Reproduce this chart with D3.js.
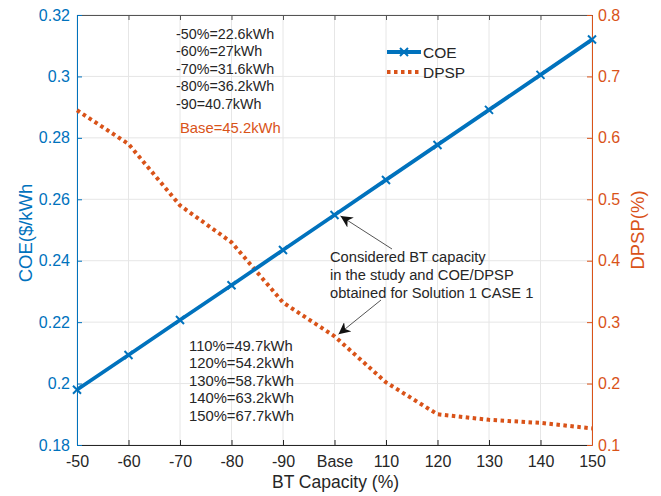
<!DOCTYPE html>
<html>
<head>
<meta charset="utf-8">
<script src="https://cdn.jsdelivr.net/npm/d3@7"></script>
<style>
  html, body { margin: 0; padding: 0; background: #fff; }
  svg { display: block; font-family: "Liberation Sans", Arial, sans-serif; }
</style>
</head>
<body>
<svg id="chart" width="661" height="496"></svg>
<script>
// Battery capacity scenarios
const categories = ["-50", "-60", "-70", "-80", "-90", "Base", "110", "120", "130", "140", "150"];
// Cost of energy ($/kWh)
const coeValues = [0.198, 0.2093, 0.2207, 0.2320, 0.2435, 0.2549, 0.2663, 0.2777, 0.2891, 0.3005, 0.3120];
// Deficiency of power supply probability (%)
const dpspValues = [0.645, 0.590, 0.490, 0.430, 0.332, 0.277, 0.202, 0.150, 0.141, 0.136, 0.127];
const leftTicks = [0.18, 0.2, 0.22, 0.24, 0.26, 0.28, 0.3, 0.32];
const rightTicks = [0.1, 0.2, 0.3, 0.4, 0.5, 0.6, 0.7, 0.8];
const lowerNotes = ["-50%=22.6kWh", "-60%=27kWh", "-70%=31.6kWh", "-80%=36.2kWh", "-90=40.7kWh"];
const baseNote = "Base=45.2kWh";
const upperNotes = ["110%=49.7kWh", "120%=54.2kWh", "130%=58.7kWh", "140%=63.2kWh", "150%=67.7kWh"];
const calloutLines = ["Considered BT capacity", "in the study and COE/DPSP", "obtained for Solution 1 CASE 1"];

const blue = "#0072BD", orange = "#D95319", ink = "#262626", gridC = "#e6e6e6";
const svg = d3.select("#chart");
const L = 77, R = 592, T = 15, B = 445;

const x = d3.scalePoint().domain(categories).range([L, R]);
const yL = d3.scaleLinear().domain([0.18, 0.32]).range([B, T]);
const yR = d3.scaleLinear().domain([0.1, 0.8]).range([B, T]);

// grid
const g = svg.append("g");
g.selectAll(".gx").data(categories).join("line")
  .attr("x1", d => x(d)).attr("x2", d => x(d)).attr("y1", T).attr("y2", B)
  .attr("stroke", gridC).attr("stroke-width", 1);
g.selectAll(".gy").data(leftTicks).join("line")
  .attr("x1", L).attr("x2", R).attr("y1", d => yL(d)).attr("y2", d => yL(d))
  .attr("stroke", gridC).attr("stroke-width", 1);

// axes
const fmt = d => String(+d.toFixed(2));
const axB = svg.append("g").attr("transform", `translate(0,${B})`)
  .call(d3.axisBottom(x).tickSizeInner(-5).tickSizeOuter(0).tickPadding(11));
axB.select(".domain").attr("stroke", ink);
axB.selectAll("line").attr("stroke", ink);
axB.selectAll("text").attr("fill", ink).attr("font-size", 16);

const axT = svg.append("g").attr("transform", `translate(0,${T})`)
  .call(d3.axisTop(x).tickSizeInner(-5).tickSizeOuter(0).tickFormat(""));
axT.select(".domain").attr("stroke", "#555");
axT.selectAll("line").attr("stroke", "#555");

const axL = svg.append("g").attr("transform", `translate(${L},0)`)
  .call(d3.axisLeft(yL).tickValues(leftTicks).tickFormat(fmt).tickSizeInner(-5).tickSizeOuter(0).tickPadding(7));
axL.select(".domain").attr("stroke", blue);
axL.selectAll("line").attr("stroke", blue);
axL.selectAll("text").attr("fill", blue).attr("font-size", 16);

const axR = svg.append("g").attr("transform", `translate(${R},0)`)
  .call(d3.axisRight(yR).tickValues(rightTicks).tickFormat(fmt).tickSizeInner(-5).tickSizeOuter(0).tickPadding(6));
axR.select(".domain").attr("stroke", orange);
axR.selectAll("line").attr("stroke", orange);
axR.selectAll("text").attr("fill", orange).attr("font-size", 16);
svg.selectAll(".domain").attr("stroke-width", 1);

// axis titles
svg.append("text").attr("x", (L + R) / 2 + 1).attr("y", 488).attr("text-anchor", "middle")
  .attr("font-size", 17.5).attr("fill", ink).text("BT Capacity (%)");
svg.append("text").attr("transform", `translate(32,${(T + B) / 2 + 3}) rotate(-90)`)
  .attr("text-anchor", "middle").attr("font-size", 18.5).attr("fill", blue).text("COE($/kWh");
svg.append("text").attr("transform", `translate(644,${(T + B) / 2}) rotate(-90)`)
  .attr("text-anchor", "middle").attr("font-size", 18.5).attr("fill", orange).text("DPSP(%)");

// DPSP dotted line
const lineR = d3.line().x((d, i) => x(categories[i])).y(d => yR(d));
svg.append("path").datum(dpspValues).attr("d", lineR)
  .attr("fill", "none").attr("stroke", orange).attr("stroke-width", 4)
  .attr("stroke-dasharray", "3.5,3.5");

// COE solid line with cross markers
const lineL = d3.line().x((d, i) => x(categories[i])).y(d => yL(d));
svg.append("path").datum(coeValues).attr("d", lineL)
  .attr("fill", "none").attr("stroke", blue).attr("stroke-width", 3.8);
const mk = svg.append("g");
coeValues.forEach((v, i) => {
  const cx = x(categories[i]), cy = yL(v), s = 4;
  mk.append("path").attr("d", `M${cx - s},${cy - s}L${cx + s},${cy + s}M${cx - s},${cy + s}L${cx + s},${cy - s}`)
    .attr("stroke", blue).attr("stroke-width", 2);
});

// legend
const lg = svg.append("g");
lg.append("line").attr("x1", 387).attr("x2", 421).attr("y1", 52).attr("y2", 52)
  .attr("stroke", blue).attr("stroke-width", 3.8);
lg.append("path").attr("d", "M400,48L408,56M400,56L408,48").attr("stroke", blue).attr("stroke-width", 2);
lg.append("text").attr("x", 423).attr("y", 57.5).attr("font-size", 15.5).attr("fill", ink).text("COE");
lg.append("line").attr("x1", 387).attr("x2", 421).attr("y1", 72).attr("y2", 72)
  .attr("stroke", orange).attr("stroke-width", 4).attr("stroke-dasharray", "3.5,3.5");
lg.append("text").attr("x", 423).attr("y", 77.5).attr("font-size", 15.5).attr("fill", ink).text("DPSP");

// capacity notes
lowerNotes.forEach((t, i) => {
  svg.append("text").attr("x", 176).attr("y", 38.5 + i * 17.5).attr("font-size", 14.3)
    .attr("fill", ink).text(t);
});
svg.append("text").attr("x", 180).attr("y", 133).attr("font-size", 14.8).attr("fill", orange).text(baseNote);
upperNotes.forEach((t, i) => {
  svg.append("text").attr("x", 189).attr("y", 350.5 + i * 17.5).attr("font-size", 14.8)
    .attr("fill", ink).text(t);
});

// callout
calloutLines.forEach((t, i) => {
  svg.append("text").attr("x", 330).attr("y", 262 + i * 18).attr("font-size", 14.7)
    .attr("fill", ink).text(t);
});
svg.append("defs").append("marker").attr("id", "ah").attr("viewBox", "0 0 10 10")
  .attr("refX", 10).attr("refY", 5).attr("markerWidth", 12).attr("markerHeight", 12)
  .attr("markerUnits", "userSpaceOnUse").attr("orient", "auto")
  .append("path").attr("d", "M0,0L10,5L0,10L3,5Z").attr("fill", "#111");
const bx = x("Base");
svg.append("line").attr("x1", 392).attr("y1", 249).attr("x2", bx + 6).attr("y2", yL(coeValues[5]) + 1)
  .attr("stroke", "#555").attr("stroke-width", 1).attr("marker-end", "url(#ah)");
svg.append("line").attr("x1", 381).attr("y1", 300).attr("x2", bx + 4).attr("y2", yR(dpspValues[5]) - 2)
  .attr("stroke", "#555").attr("stroke-width", 1).attr("marker-end", "url(#ah)");
</script>
</body>
</html>
